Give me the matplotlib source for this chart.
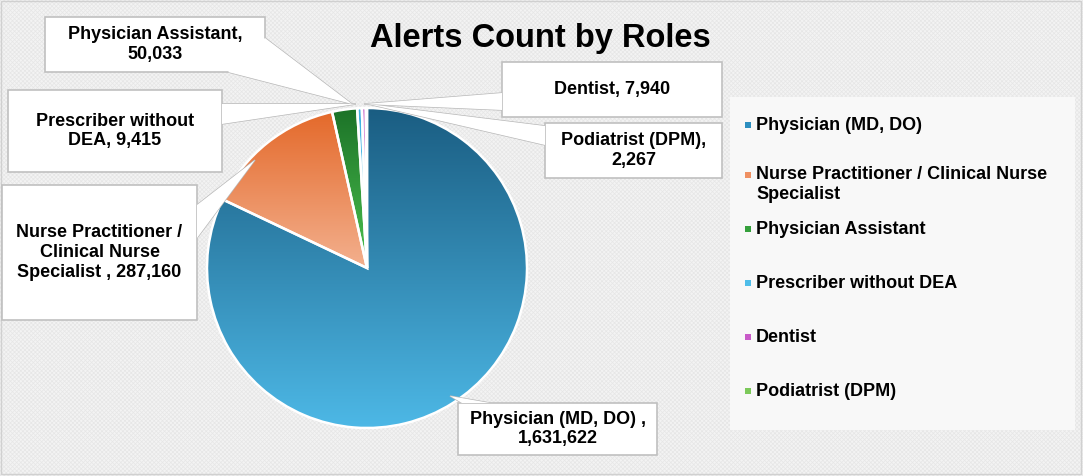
# Alerts Count by Roles - pie chart with callout labels
import matplotlib
matplotlib.use('Agg')
import matplotlib.pyplot as plt
import numpy as np
from matplotlib.colors import LinearSegmentedColormap
from matplotlib.patches import Rectangle, Polygon

roles = ['Physician (MD, DO)', 'Nurse Practitioner / Clinical Nurse Specialist',
         'Physician Assistant', 'Prescriber without DEA', 'Dentist', 'Podiatrist (DPM)']
counts = [1631622, 287160, 50033, 9415, 7940, 2267]
label_texts = ['Physician (MD, DO) ,\n1,631,622',
               'Nurse Practitioner /\nClinical Nurse\nSpecialist , 287,160',
               'Physician Assistant,\n50,033',
               'Prescriber without\nDEA, 9,415',
               'Dentist, 7,940',
               'Podiatrist (DPM),\n2,267']
legend_texts = ['Physician (MD, DO)', 'Nurse Practitioner / Clinical Nurse\nSpecialist',
                'Physician Assistant', 'Prescriber without DEA', 'Dentist', 'Podiatrist (DPM)']
# gradient top / bottom colours per slice
top_colors = ['#1a5d82', '#e4692a', '#1c7228', '#3fb0e2', '#c45cc4', '#6cbf4c']
bot_colors = ['#4db8e6', '#f3b08e', '#4cc24f', '#5cc4ee', '#d47ad4', '#8ad46a']
legend_colors = ['#2d8fc0', '#ef9062', '#35a03c', '#4fbde9', '#c85ac8', '#7cc95a']

# callout boxes in pixel coords: (x0, y0, x1, y1), pointer base (p1, p2), tip
boxes = [(458, 403, 657, 455), (2, 185, 197, 320), (45, 17, 265, 72),
         (8, 90, 222, 172), (502, 62, 722, 117), (545, 123, 722, 178)]
bases = [((462, 403), (490, 403)), ((197, 205), (197, 238)), ((228, 72), (265, 38)),
         ((222, 104), (222, 124)), ((502, 93), (502, 110)), ((545, 126), (545, 145))]
tips = [(450, 396), (255, 160), (352, 104), (356, 104), (364, 104), (368, 104)]

W, H = 1083, 476
cx, cy, R = 367, 268, 160

plt.rcParams['hatch.linewidth'] = 0.5

fig = plt.figure(figsize=(W / 100, H / 100), dpi=100)
fig.patch.set_facecolor('#f3f3f3')
ax = fig.add_axes([0, 0, 1, 1])
ax.set_facecolor('#f3f3f3')
ax.axis('off')
ax.set_xlim(0, W)
ax.set_ylim(H, 0)

font = ['Liberation Sans', 'DejaVu Sans']

# background pattern and outer frame
ax.add_patch(Rectangle((0, 0), W, H, fc='#f3f3f3', ec='#e6e6e6', lw=0, hatch='xxxxxxxx', zorder=0))
ax.add_patch(Rectangle((1, 1), W - 3, H - 3, fill=False, ec='#d0d0d0', lw=1, zorder=1))

# legend panel
ax.add_patch(Rectangle((730, 97), 345, 333, fc='#f8f8f8', ec='none', zorder=1))

wedges, _ = ax.pie(counts, center=(cx, cy), radius=R, startangle=-90, counterclock=True,
                   frame=False, wedgeprops=dict(ec='white', lw=1.8))
for i, w in enumerate(wedges):
    w.set_facecolor('none')
    w.set_zorder(3)
    cmap = LinearSegmentedColormap.from_list('g%d' % i, [top_colors[i], bot_colors[i]])
    bb = w.get_path().get_extents(w.get_transform() - ax.transData)
    grad = np.linspace(0, 1, 256).reshape(-1, 1)
    im = ax.imshow(grad, cmap=cmap, aspect='auto', origin='upper',
                   extent=(bb.x0, bb.x1, bb.y1, bb.y0), zorder=2)
    im.set_clip_path(w)

ax.set_xlim(0, W)
ax.set_ylim(H, 0)

# callouts
for i in range(len(counts)):
    x0, y0, x1, y1 = boxes[i]
    p1, p2 = bases[i]
    ax.add_patch(Polygon([p1, tips[i], p2], closed=True, fc='white', ec='#b8b8b8', lw=1, zorder=4))
    ax.add_patch(Rectangle((x0, y0), x1 - x0, y1 - y0, fc='white', ec='#c0c0c0', lw=1.2, zorder=5))
    ax.add_patch(Polygon([p1, tips[i], p2], closed=True, fc='white', ec='none', lw=0, zorder=6))
    ax.text((x0 + x1) / 2, (y0 + y1) / 2, label_texts[i], ha='center', va='center',
            fontsize=13, fontweight='bold', family=font, linespacing=1.2, zorder=7)

# title
ax.text(540, 38, 'Alerts Count by Roles', ha='center', va='center', fontsize=23.5,
        fontweight='bold', family=font, zorder=7)

# legend
leg_y = [125, 175, 229, 283, 337, 391]
for i in range(len(roles)):
    ax.add_patch(Rectangle((745, leg_y[i] - 3), 6, 6, fc=legend_colors[i], ec='none', zorder=7))
    if '\n' in legend_texts[i]:
        ax.text(756, leg_y[i] - 9, legend_texts[i], ha='left', va='top',
                fontsize=13, fontweight='bold', family=font, linespacing=1.25, zorder=7)
    else:
        ax.text(756, leg_y[i], legend_texts[i], ha='left', va='center',
                fontsize=13, fontweight='bold', family=font, zorder=7)

fig.savefig('out.png', dpi=100, facecolor=fig.get_facecolor())
